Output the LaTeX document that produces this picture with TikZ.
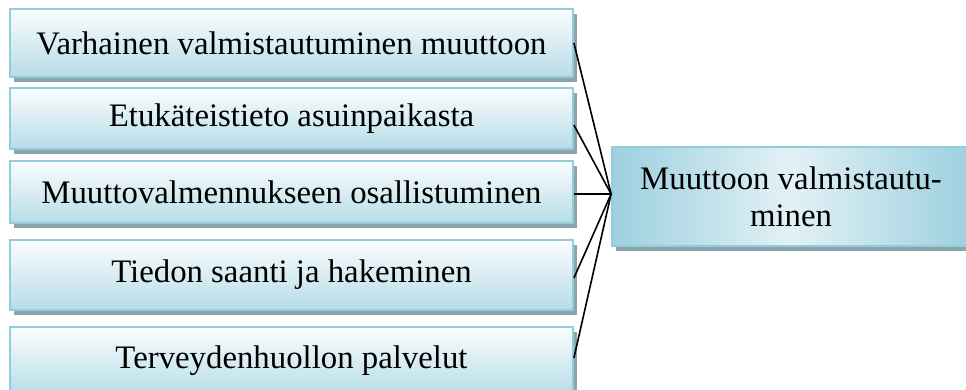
\documentclass[tikz,border=0pt]{standalone}
\usepackage{fontspec}
\setmainfont{Liberation Serif}
\usetikzlibrary{shadows}
\definecolor{boxborder}{HTML}{92CDDC}
\definecolor{boxtop}{HTML}{FBFDFE}
\definecolor{boxbot}{HTML}{B6DCE7}
\definecolor{shadowc}{HTML}{8CA4AD}
\definecolor{cdark}{HTML}{9DD0DF}
\definecolor{clight}{HTML}{E2F1F6}
\tikzset{
  leftbox/.style={draw=boxborder, line width=1.8pt, top color=boxtop, bottom color=boxbot,
    minimum width=563pt, inner sep=0pt, font=\fontsize{32.8}{37}\selectfont,
    drop shadow={shadow xshift=3.5pt, shadow yshift=-4.5pt, fill=shadowc, opacity=1}},
  centerbox/.style={draw=boxborder, line width=1.8pt, shading=axis, shading angle=35,
    left color=cdark, right color=cdark, middle color=clight,
    minimum width=358pt, minimum height=99pt, inner sep=0pt, align=center,
    font=\fontsize{32.8}{37}\selectfont,
    drop shadow={shadow xshift=3.5pt, shadow yshift=-4.5pt, fill=shadowc, opacity=1}},
  link/.style={draw=black, line width=1.6pt}
}
\begin{document}
\begin{tikzpicture}[x=1pt,y=-1pt]
\useasboundingbox (0,0) rectangle (966,389);
\clip (0,0) rectangle (966,389);
\fill[white] (0,0) rectangle (966,389);
\node[leftbox, minimum height=68pt] (b1) at (291.5,43) {Varhainen valmistautuminen muuttoon};
\node[leftbox, minimum height=61pt] (b2) at (291.5,118.5) {Etukäteistieto asuinpaikasta};
\node[leftbox, minimum height=62pt] (b3) at (291.5,192) {Muuttovalmennukseen osallistuminen};
\node[leftbox, minimum height=70pt] (b4) at (291.5,275) {Tiedon saanti ja hakeminen};
\node[leftbox, minimum height=68pt] (b5) at (291.5,361) {Terveydenhuollon palvelut};
\node[centerbox] (c) at (791,196.5) {Muuttoon valmistautu-\\minen};
\coordinate (j) at ([yshift=2.5pt]c.west);
\draw[link] (b1.east) -- (j);
\draw[link] ([yshift=-6.5pt]b2.east) -- (j);
\draw[link] ([yshift=-2pt]b3.east) -- (j);
\draw[link] ([yshift=-3pt]b4.east) -- (j);
\draw[link] ([yshift=3pt]b5.east) -- (j);
\end{tikzpicture}
\end{document}
